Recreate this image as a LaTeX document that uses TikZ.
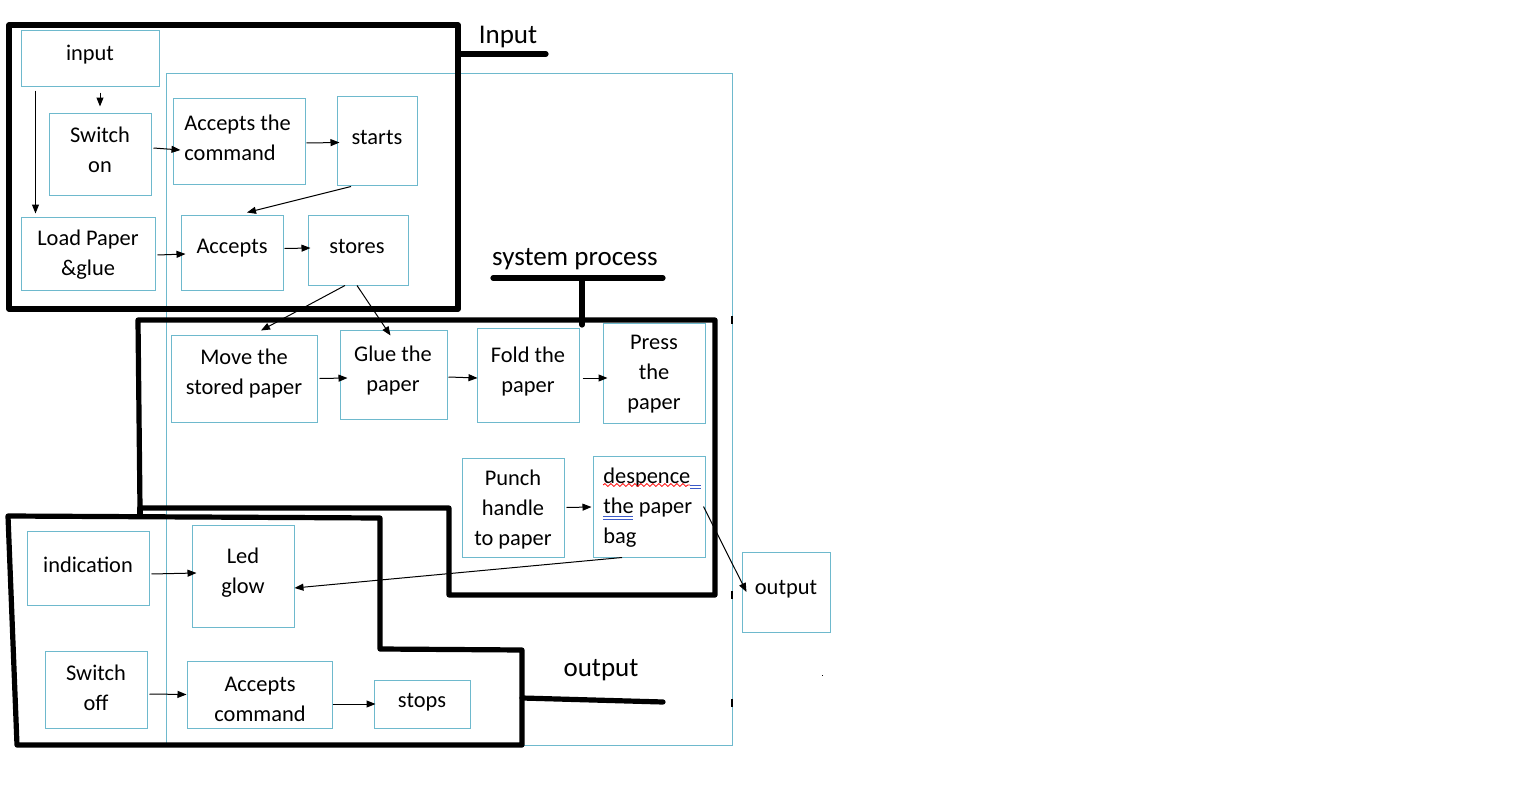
\documentclass[tikz,border=0pt]{standalone}
\usepackage{fontspec}
\setmainfont{Carlito}
\usetikzlibrary{calc,fit,arrows.meta,decorations.pathmorphing}
\definecolor{boxc}{RGB}{110,185,205}
\definecolor{spellblue}{RGB}{60,90,200}
\tikzset{
 box/.style={draw=boxc,line width=0.5pt,inner sep=0pt},
 txt/.style={font=\fontsize{11.2}{15}\selectfont,align=center,inner sep=0pt,yshift=-1pt},
 ltxt/.style={font=\fontsize{11.2}{15}\selectfont,align=left,inner sep=0pt,anchor=west,yshift=-1pt},
 lab/.style={font=\fontsize{13.5}{16}\selectfont,inner sep=0pt,yshift=-1pt},
 arr/.style={line width=0.5pt,-{Triangle[length=4.5pt,width=3.5pt]}},
 frame/.style={line width=2.6pt,line join=round,line cap=round},
 strayfill/.style={fill=black},
}
\newcommand\mkbox[5]{\path (#2,#3) coordinate (#1-a) (#4,#5) coordinate (#1-b); \node[box,fit=(#1-a)(#1-b)] (#1) {};}
\begin{document}
\begin{tikzpicture}[x=0.5pt,y=-0.5pt]
\useasboundingbox (0,0) rectangle (1539,787);
% large background region
\mkbox{big}{166}{73}{732}{745}
% boxes
\mkbox{input}{21}{30}{159}{86}
\mkbox{swon}{49}{113}{151}{195}
\mkbox{load}{21}{217}{155}{290}
\mkbox{acc1}{173}{98}{305}{184}
\mkbox{starts}{337}{96}{417}{185}
\mkbox{acc2}{181}{215}{283}{290}
\mkbox{stores}{308}{215}{408}{285}
\mkbox{move}{171}{335}{317}{422}
\mkbox{glue}{340}{330}{447}{419}
\mkbox{fold}{477}{328}{579}{422}
\mkbox{press}{603}{323}{705}{423}
\mkbox{punch}{462}{458}{564}{557}
\mkbox{desp}{593}{456}{705}{557}
\mkbox{ind}{27}{531}{149}{605}
\mkbox{led}{192}{525}{294}{627}
\mkbox{swoff}{45}{651}{147}{728}
\mkbox{acccmd}{187}{661}{332}{728}
\mkbox{stops}{374}{680}{470}{728}
\mkbox{out}{742}{552}{830}{632}
% texts
\node[txt] (input-t) at (90,53) {input};
\node[txt] (swon-t) at (100,148) {Switch\\on};
\node[txt] (load-t) at (88,253) {Load Paper\\\&glue};
\node[ltxt] (acc1-t) at (184,136) {Accepts the\\command};
\node[txt] (starts-t) at (377,135) {starts};
\node[txt] (acc2-t) at (232,246) {Accepts};
\node[txt] (stores-t) at (357,244) {stores};
\node[txt] (move-t) at (244,372) {Move the\\stored paper};
\node[txt] (glue-t) at (393,369) {Glue the\\paper};
\node[txt] (fold-t) at (528,370) {Fold the\\paper};
\node[txt] (press-t) at (654,372) {Press\\the\\paper};
\node[txt] (punch-t) at (513,508) {Punch\\handle\\to paper};
\node[ltxt] (desp-t) at (603,506) {despence\\the paper\\bag};
\node[txt] (ind-t) at (88,563) {indication};
\node[txt] (led-t) at (243,571) {Led\\glow};
\node[txt] (swoff-t) at (96,686) {Switch\\off};
\node[txt] (acccmd-t) at (260,697) {Accepts\\command};
\node[txt] (stops-t) at (422,700) {stops};
\node[txt] (out-t) at (786,587) {output};
% spell-check marks
\draw[red,line width=0.4pt,decorate,decoration={snake,segment length=3pt,amplitude=0.7pt}] (603,485) -- (690,485);
\draw[spellblue,line width=0.4pt] (690,485) -- (701,485) (690,488) -- (701,488)
  (603,516) -- (633,516) (603,519) -- (633,519);
% arrows
\draw[arr] ($(input.south -| swon.north)+(0,6)$) -- ($(swon.north)+(0,-6)$);
\draw[arr] ($(input.south west)+(15,4)$) -- ($(load.north west)+(15,-3)$);
\draw[arr] ($(swon.east)+(2,-6)$) -- ($(acc1.west)+(8,9)$);
\draw[arr] ($(acc1.east)+(1,2)$) -- ($(starts.west)+(3,2)$);
\draw[arr] ($(starts.south)+(-26,1)$) -- ($(acc2.north)+(15,-2)$);
\draw[arr] ($(load.east)+(2,1.5)$) -- ($(acc2.west)+(5,1.5)$);
\draw[arr] ($(acc2.east)+(1,-4)$) -- ($(stores.west)+(3,-2)$);
\draw[arr] ($(stores.south)+(-13,0)$) -- ($(move.north)+(17,-4)$);
\draw[arr] ($(stores.south)+(-1,0)$) -- ($(glue.north)+(-3,6)$);
\draw[arr] ($(move.east)+(2,0)$) -- ($(glue.west)+(8,3.5)$);
\draw[arr] ($(glue.east)+(1,2.5)$) -- ($(fold.west)+(1,3)$);
\draw[arr] ($(fold.east)+(3,3)$) -- ($(press.west)+(5,5)$);
\draw[arr] ($(punch.east)+(2,0)$) -- ($(desp.west)+(-1,0.5)$);
\draw[arr] ($(desp.south)+(-27,0)$) -- ($(led.east)+(0,12)$);
\draw[arr] ($(desp.east)+(-2,0)$) -- ($(out.west)+(5,0)$);
\draw[arr] ($(ind.east)+(2,6)$) -- ($(led.west)+(5,-3)$);
\draw[arr] ($(swoff.east)+(2,4.5)$) -- ($(acccmd.west)+(0,0)$);
\draw[arr] ($(acccmd.east)+(0,9.5)$) -- ($(stops.west)+(2,0)$);
% thick frames
\draw[frame] (9,25) rectangle (458,309);
\draw[frame] (458,54) -- (546,54);
\node[lab] (l-input) at (508,35) {Input};
\draw[frame] (138,320) -- (715,320) -- (715,595) -- (449,595) -- (449,508) -- (140,508) -- cycle;
\draw[frame] (140,508) -- (140,516);
\draw[frame] (493,278) -- (663,278);
\draw[frame] (582,278) -- (582,325);
\node[lab] (l-sys) at (575,257) {system process};
\draw[frame] (8,516) -- (380,518) -- (380,649) -- (522,650) -- (522,745) -- (17,745) -- cycle;
\draw[frame] (522,698) -- (663,702);
\node[lab] (l-out) at (601,668) {output};
% small stray marks
\fill[strayfill] (731,316) rectangle (733,324);
\fill[strayfill] (731,591) rectangle (733,599);
\fill[strayfill] (731,699) rectangle (733,707);
\fill[strayfill] (821.5,674.5) rectangle (823,676);
\end{tikzpicture}
\end{document}
